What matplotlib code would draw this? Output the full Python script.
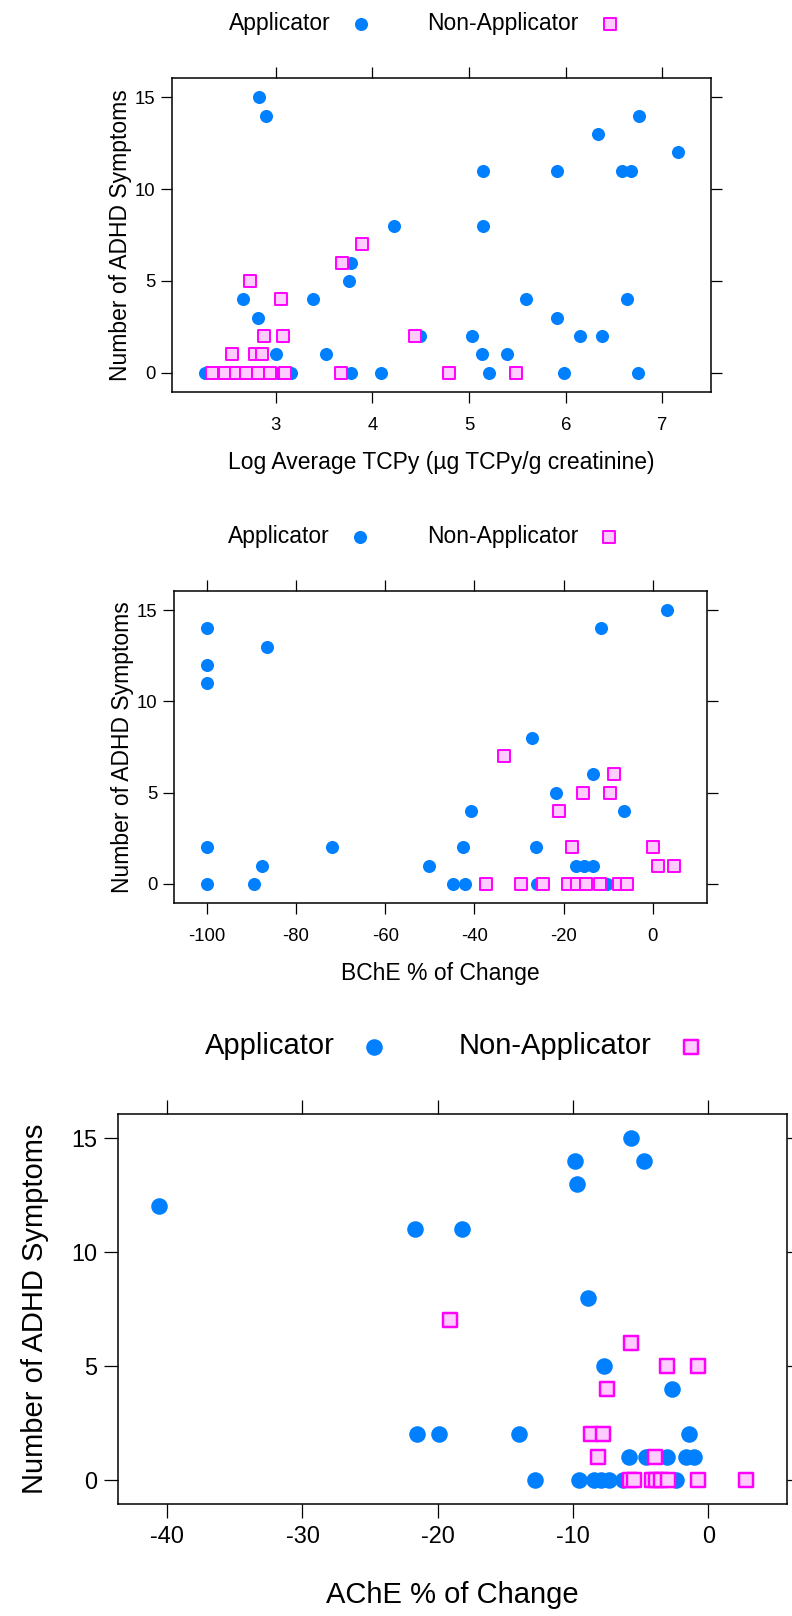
import numpy as np
import matplotlib
matplotlib.use("Agg")
import matplotlib.pyplot as plt

plt.rcParams['font.family'] = ['Liberation Sans', 'DejaVu Sans']
plt.rcParams['axes.unicode_minus'] = False

# panel 1: log average TCPy
tcpy_app_x = [2.83, 2.90, 4.22, 5.14, 5.14, 3.78, 3.76, 2.66, 3.39, 2.82, 3.00, 3.52,
              4.49, 5.03, 5.13, 5.39, 2.27, 3.02, 3.16, 3.78, 4.09, 5.21, 5.98, 6.75,
              6.76, 6.33, 7.16, 5.91, 6.58, 6.67, 5.59, 6.63, 5.91, 6.15, 6.38]
tcpy_app_y = [15, 14, 8, 11, 8, 6, 5, 4, 4, 3, 1, 1, 2, 2, 1, 1, 0, 0, 0, 0, 0, 0, 0, 0,
              14, 13, 12, 11, 11, 11, 4, 4, 3, 2, 2]
tcpy_non_x = [2.73, 3.06, 3.69, 3.89, 2.88, 3.08, 4.44, 2.55, 2.79, 2.86, 2.34, 2.48,
              2.59, 2.69, 2.82, 2.94, 3.10, 3.68, 4.79, 5.49]
tcpy_non_y = [5, 4, 6, 7, 2, 2, 2, 1, 1, 1, 0, 0, 0, 0, 0, 0, 0, 0, 0, 0]

# panel 2: BChE % of change
bche_app_x = [-100, -86.5, -100, -100, -100, -72.0, -87.5, -50.1, 3.1, -11.6, -27.1, -13.5,
              -21.8, -40.7, -6.4, -42.5, -26.2, -17.3, -15.4, -13.5, -100, -89.5, -44.7,
              -42.1, -26.0, -10.3]
bche_app_y = [14, 13, 12, 11, 2, 2, 1, 1, 15, 14, 8, 6, 5, 4, 4, 2, 2, 1, 1, 1,
              0, 0, 0, 0, 0, 0]
bche_non_x = [-33.4, -8.7, -15.6, -9.6, -21.1, -18.2, 0.1, 1.1, 4.8, -37.4, -29.5, -24.7,
              -19.1, -17.1, -15.0, -11.8, -7.6, -5.8]
bche_non_y = [7, 6, 5, 5, 4, 2, 2, 1, 1, 0, 0, 0, 0, 0, 0, 0, 0, 0]

# panel 3: AChE % of change
ache_app_x = [-40.6, -21.65, -5.73, -9.85, -4.77, -9.70, -18.24, -8.86, -7.74, -2.68,
              -21.5, -19.9, -14.03, -1.42, -5.83, -4.6, -3.07, -1.64, -1.08, -12.8,
              -9.53, -8.45, -7.96, -7.37, -6.31, -2.38]
ache_app_y = [12, 11, 15, 14, 14, 13, 11, 8, 5, 4, 2, 2, 2, 2, 1, 1, 1, 1, 1,
              0, 0, 0, 0, 0, 0, 0]
ache_non_x = [-19.06, -5.70, -3.07, -0.78, -7.47, -8.65, -7.77, -8.16, -3.93, -5.8, -5.47,
              -4.16, -3.86, -3.5, -2.98, -0.78, 2.78]
ache_non_y = [7, 6, 5, 5, 4, 2, 2, 1, 1, 0, 0, 0, 0, 0, 0, 0, 0]

groups = ["Applicator", "Non-Applicator"]
y_label = "Number of ADHD Symptoms"

BLUE = "#0080ff"
MAG = "#ff00ff"
PINK = "#ffccff"

W, H = 792, 1616
fig = plt.figure(figsize=(W / 100, H / 100), dpi=100)


def px_axes(left, top, right, bottom):
    return fig.add_axes([left / W, 1 - bottom / H, (right - left) / W, (bottom - top) / H])


def panel(ax, ax_x, ax_y, non_x, non_y, xlabel, xticks, scale=1.0,
          xpad=10, xlabpad=12, ylabpad=2, leg_x=0.465):
    ms_dot = 9.4 * scale
    ms_sq = 8.0 * scale
    h1 = ax.scatter(ax_x, ax_y, s=ms_dot ** 2, c=BLUE, marker="o", linewidths=0, zorder=3)
    h2 = ax.scatter(non_x, non_y, s=ms_sq ** 2, facecolors=PINK, edgecolors=MAG,
                    marker="s", linewidths=1.4 * scale, zorder=4)
    allx = list(ax_x) + list(non_x)
    lo, hi = min(allx), max(allx)
    pad = 0.07 * (hi - lo)
    ax.set_xlim(lo - pad, hi + pad)
    ax.set_ylim(-1.05, 16.05)
    ax.set_xticks(xticks)
    ax.set_yticks([0, 5, 10, 15])
    ax.tick_params(direction="out", length=8 * scale, width=0.9, top=True, right=True,
                   labelsize=13.3 * scale)
    ax.tick_params(axis="x", pad=xpad)
    ax.tick_params(axis="y", pad=4 * scale)
    for sp in ax.spines.values():
        sp.set_linewidth(1.1)
    ax.set_xlabel(xlabel, fontsize=16.5 * scale, labelpad=xlabpad)
    ax.set_ylabel(y_label, fontsize=16.5 * scale, labelpad=ylabpad)
    ax.legend([h1, h2], groups, loc="lower center", bbox_to_anchor=(leg_x, 1.10),
              ncol=2, frameon=False, markerfirst=False, fontsize=16.5 * scale,
              handlelength=0.6, handletextpad=1.05, columnspacing=2.6, borderpad=0)


ax1 = px_axes(172, 78, 711, 392)
panel(ax1, tcpy_app_x, tcpy_app_y, tcpy_non_x, tcpy_non_y,
      "Log Average TCPy (µg TCPy/g creatinine)", [3, 4, 5, 6, 7])

ax2 = px_axes(174, 591, 707, 903)
panel(ax2, bche_app_x, bche_app_y, bche_non_x, bche_non_y,
      "BChE % of Change", [-100, -80, -60, -40, -20, 0])

ax3 = px_axes(118, 1114, 787, 1504)
panel(ax3, ache_app_x, ache_app_y, ache_non_x, ache_non_y,
      "AChE % of Change", [-40, -30, -20, -10, 0], scale=1.27,
      xpad=5, xlabpad=24, ylabpad=16, leg_x=0.5)

fig.savefig("out.png", dpi=100)
